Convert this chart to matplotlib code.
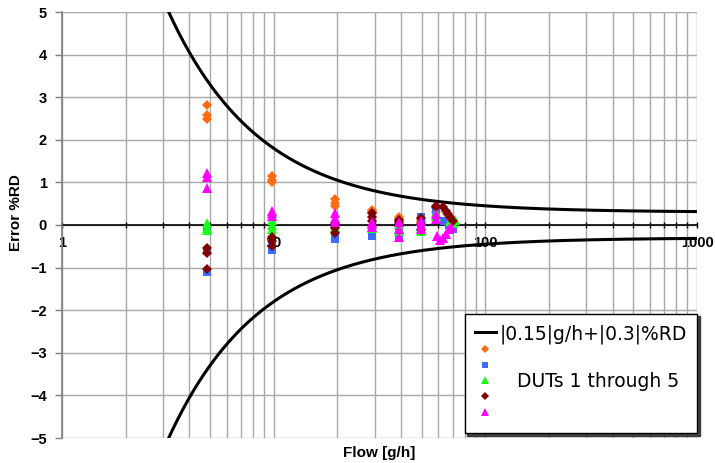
import numpy as np
import matplotlib
matplotlib.use("Agg")
import matplotlib.pyplot as plt
from matplotlib.ticker import LogLocator, NullFormatter, FixedLocator, FixedFormatter

# Measured error (%RD) of five devices under test versus flow (g/h)
dut1_flow = [4.85, 4.85, 4.85, 9.8, 9.8, 9.8, 19.5, 19.5, 19.5, 29.3, 29.3, 29.3,
             39.3, 39.3, 39.3, 49.7, 49.7, 49.7, 58.5, 58.5, 66, 68, 70]
dut1_err = [2.82, 2.58, 2.48, 1.14, 1.06, 1.02, 0.60, 0.52, 0.45, 0.35, 0.32, 0.29,
            0.18, 0.15, 0.12, 0.14, 0.10, 0.08, 0.40, 0.30, 0.25, 0.15, 0.10]

dut2_flow = [4.85, 4.85, 4.85, 9.8, 9.8, 9.8, 19.5, 19.5, 19.5, 29.3, 29.3, 29.3,
             39.3, 39.3, 39.3, 49.7, 49.7, 49.7, 58.5, 58.5, 64, 67, 70]
dut2_err = [-0.15, -0.60, -1.10, -0.45, -0.52, -0.58, -0.20, -0.26, -0.32, -0.12, -0.18, -0.26,
            -0.18, -0.25, -0.30, 0.18, 0.10, 0.04, 0.35, 0.25, 0.10, 0.00, -0.10]

dut3_flow = [4.85, 4.85, 4.85, 9.8, 9.8, 9.8, 19.5, 19.5, 19.5, 29.3, 29.3, 29.3,
             39.3, 39.3, 39.3, 49.7, 49.7, 49.7, 58.5, 58.5, 68, 70, 72]
dut3_err = [0.04, -0.08, -0.12, 0.12, 0.00, -0.10, 0.02, -0.04, -0.08, 0.02, -0.04, -0.08,
            0.02, -0.10, -0.15, 0.00, -0.08, -0.14, 0.30, 0.22, 0.10, 0.05, 0.12]

dut4_flow = [4.85, 4.85, 4.85, 9.8, 9.8, 9.8, 19.5, 19.5, 19.5, 29.3, 29.3, 29.3,
             39.3, 39.3, 39.3, 49.7, 49.7, 49.7, 58.5, 58.5, 63, 65, 66.5, 68, 70]
dut4_err = [-0.55, -0.65, -1.03, -0.28, -0.38, -0.50, 0.05, -0.08, -0.18, 0.28, 0.18, 0.10,
            0.12, 0.08, 0.04, 0.16, 0.02, -0.12, 0.45, 0.42, 0.42, 0.33, 0.25, 0.18, 0.10]

dut5_flow = [4.85, 4.85, 4.85, 9.8, 9.8, 9.8, 19.5, 19.5, 19.5, 29.3, 29.3, 29.3,
             39.3, 39.3, 39.3, 49.7, 49.7, 49.7, 58.5, 58.5, 59, 61, 63, 65, 67, 69]
dut5_err = [1.23, 1.12, 0.86, 0.33, 0.27, 0.20, 0.28, 0.16, 0.08, 0.08, 0.02, -0.05,
            0.08, -0.10, -0.28, 0.10, 0.00, -0.10, 0.25, 0.15, -0.25, -0.35, -0.30, -0.20, -0.10, -0.05]

# Tolerance band: |0.15| g/h + |0.3| %RD
abs_tol = 0.15
rel_tol = 0.3

x_ticks = [1, 10, 100, 1000]
x_tick_labels = ["1", "10", "100", "1000"]
y_ticks = [-5, -4, -3, -2, -1, 0, 1, 2, 3, 4, 5]

series = [
    (dut1_flow, dut1_err, "D", "#FF6A13", 5.2),
    (dut2_flow, dut2_err, "s", "#3B6CFF", 6.0),
    (dut3_flow, dut3_err, "^", "#1AFF1A", 7.0),
    (dut4_flow, dut4_err, "D", "#800000", 5.2),
    (dut5_flow, dut5_err, "^", "#FF00FF", 7.0),
]

W, H = 715, 463
fig = plt.figure(figsize=(W / 100, H / 100), dpi=100)
L, R, T, B = 62, 697, 12, 438
ax = fig.add_axes([L / W, 1 - B / H, (R - L) / W, (B - T) / H])

ax.set_xscale("log")
ax.set_xlim(1, 1000)
ax.set_ylim(-5, 5)

grid_c = "#A8A8A8"
ax.set_axisbelow(True)
ax.xaxis.set_major_locator(FixedLocator(x_ticks))
ax.xaxis.set_major_formatter(FixedFormatter(x_tick_labels))
ax.xaxis.set_minor_locator(LogLocator(base=10, subs=np.arange(2, 10)))
ax.xaxis.set_minor_formatter(NullFormatter())
ax.set_yticks(y_ticks)
ax.grid(True, which="major", axis="both", color=grid_c, lw=1.0)
ax.grid(True, which="minor", axis="x", color=grid_c, lw=1.0)

for s in ("top", "right"):
    ax.spines[s].set_visible(False)
ax.spines["left"].set_color("#7F7F7F")
ax.spines["left"].set_linewidth(1.2)
ax.spines["bottom"].set_position(("data", 0))
ax.spines["bottom"].set_color("black")
ax.spines["bottom"].set_linewidth(1.2)
ax.spines["bottom"].set_zorder(1.5)

tick_font = dict(family="Liberation Sans", weight="bold", size=10.5)
ax.tick_params(axis="x", which="both", direction="inout", length=4, width=1,
               color="black", pad=6)
ax.tick_params(axis="y", which="major", direction="out", length=5, width=1,
               color="#7F7F7F", pad=6)
for lab in ax.get_xticklabels() + ax.get_yticklabels():
    lab.set_fontfamily(tick_font["family"])
    lab.set_fontweight(tick_font["weight"])
    lab.set_fontsize(tick_font["size"])

# Tolerance curves
xc = np.logspace(0, 3, 600)
band = abs_tol / xc * 100 + rel_tol
ax.plot(xc, band, color="black", lw=2.2, zorder=3, label="|0.15|g/h+|0.3|%RD")
ax.plot(xc, -band, color="black", lw=2.2, zorder=3)

labels = [" ", " ", "   DUTs 1 through 5", " ", " "]
for (fx, ey, mk, col, ms), lab in zip(series, labels):
    ax.plot(fx, ey, linestyle="none", marker=mk, color=col, markersize=ms,
            markeredgewidth=0, zorder=4, label=lab)

ax.set_xlabel("Flow [g/h]", fontfamily="Liberation Sans", fontweight="bold", fontsize=11)
ax.xaxis.set_label_coords(0.5, -0.018)
ax.set_ylabel("Error %RD", fontfamily="Liberation Sans", fontweight="bold", fontsize=11)
ax.yaxis.set_label_coords(-0.062, 0.53)

leg = ax.legend(loc="lower right", bbox_to_anchor=(1.0, 0.012), borderaxespad=0,
                frameon=True, fancybox=False,
                shadow={"color": "#303030", "alpha": 0.9},
                edgecolor="black", framealpha=1,
                prop=dict(family="DejaVu Sans", size=13.5),
                handlelength=1.1, handletextpad=0.2, labelspacing=-0.17,
                borderpad=0.55, markerscale=0.75)
leg.get_frame().set_linewidth(1.0)
leg.set_zorder(6)

fig.savefig("out.png", dpi=100)
